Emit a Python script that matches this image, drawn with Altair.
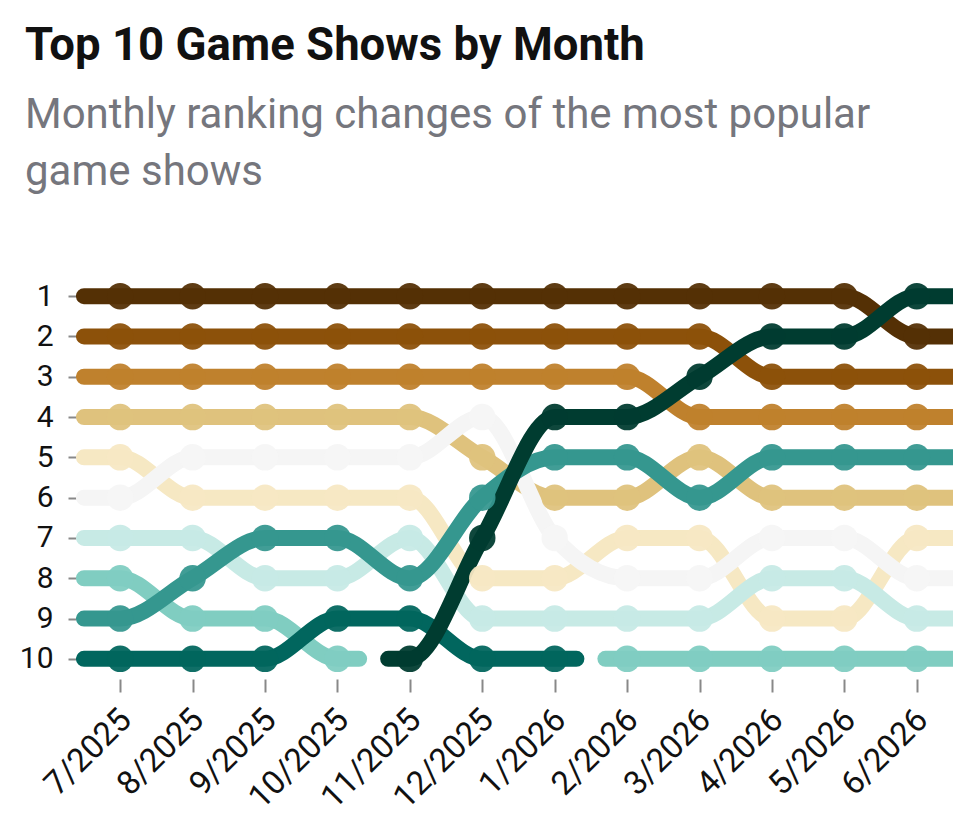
import json
import altair as alt
import pandas as pd

months = ["7/2025", "8/2025", "9/2025", "10/2025", "11/2025", "12/2025",
          "1/2026", "2/2026", "3/2026", "4/2026", "5/2026", "6/2026"]

shows = ["Show A", "Show B", "Show C", "Show D", "Show E", "Show F",
         "Show G", "Show H", "Show I", "Show J", "Show K"]

ranks_a = [1, 1, 1, 1, 1, 1, 1, 1, 1, 1, 1, 2]
ranks_b = [2, 2, 2, 2, 2, 2, 2, 2, 2, 3, 3, 3]
ranks_c = [3, 3, 3, 3, 3, 3, 3, 3, 4, 4, 4, 4]
ranks_d = [4, 4, 4, 4, 4, 5, 6, 6, 5, 6, 6, 6]
ranks_e = [5, 6, 6, 6, 6, 8, 8, 7, 7, 9, 9, 7]
ranks_f = [6, 5, 5, 5, 5, 4, 7, 8, 8, 7, 7, 8]
ranks_g = [7, 7, 8, 8, 7, 9, 9, 9, 9, 8, 8, 9]
ranks_h = [8, 9, 9, 10, None, None, None, 10, 10, 10, 10, 10]
ranks_i = [9, 8, 7, 7, 8, 6, 5, 5, 6, 5, 5, 5]
ranks_j = [10, 10, 10, 9, 9, 10, 10, None, None, None, None, None]
ranks_k = [None, None, None, None, 10, 7, 4, 4, 3, 2, 2, 1]

all_ranks = [ranks_a, ranks_b, ranks_c, ranks_d, ranks_e, ranks_f,
             ranks_g, ranks_h, ranks_i, ranks_j, ranks_k]

colors = ["#543005", "#8c510a", "#bf812d", "#dfc27d", "#f6e8c3", "#f5f5f5",
          "#c7eae5", "#80cdc1", "#35978f", "#01665e", "#003c30"]

FONT = "Roboto"
EDGE_EXT = 0.5
GAP_EXT = 0.3

point_rows = []
line_rows = []
order = 0
for s_i, (name, rk) in enumerate(zip(shows, all_ranks)):
    seg = 0
    run = []
    for m_i, r in enumerate(rk + [None]):
        if r is not None:
            run.append((m_i, r))
            point_rows.append({"show": name, "idx": m_i, "rank": r, "o": s_i})
        elif run:
            segname = f"{name}-{seg}"
            first_i, first_r = run[0]
            last_i, last_r = run[-1]
            ext0 = EDGE_EXT if first_i == 0 else GAP_EXT
            ext1 = EDGE_EXT if last_i == len(months) - 1 else GAP_EXT
            pts = [(first_i - ext0, first_r)] + run + [(last_i + ext1, last_r)]
            for x, y in pts:
                line_rows.append({"show": name, "seg": segname, "idx": x,
                                  "rank": y, "o": order})
                order += 1
            seg += 1
            run = []

lines_df = pd.DataFrame(line_rows)
points_df = pd.DataFrame(point_rows)

label_expr = json.dumps(months) + "[datum.value]"

x_enc = alt.X(
    "idx:Q",
    scale=alt.Scale(domain=[-0.61, 11.5], nice=False, zero=False),
    axis=alt.Axis(values=list(range(len(months))), labelExpr=label_expr,
                  labelAngle=-45, tickSize=13, labelPadding=11, labelOffset=-6,
                  domain=False, grid=False, title=None, labelFontSize=33,
                  labelFont=FONT, labelColor="#111111", tickColor="#888888",
                  tickWidth=2, labelOverlap=False, labelBound=False,
                  labelFlush=False),
)
y_enc = alt.Y(
    "rank:Q",
    scale=alt.Scale(domain=[0.5, 10.5], reverse=True, nice=False, zero=False),
    axis=alt.Axis(values=list(range(1, 11)), format="d", tickSize=8,
                  labelPadding=15, domain=False, grid=False, title=None,
                  labelFontSize=30, labelFont=FONT, labelColor="#111111",
                  tickColor="#888888", tickWidth=2),
)
color_enc = alt.Color("show:N", scale=alt.Scale(domain=shows, range=colors),
                      legend=None)

lines = alt.Chart(lines_df).mark_line(
    interpolate="monotone", strokeWidth=16, strokeCap="round",
    strokeJoin="round", clip=True
).encode(x=x_enc, y=y_enc, color=color_enc, detail="seg:N",
         order=alt.Order("o:Q"))

points = alt.Chart(points_df).mark_circle(size=700, opacity=0.94).encode(
    x=x_enc, y=y_enc, color=color_enc, order=alt.Order("o:Q")
)

chart = alt.layer(lines, points).properties(
    width=877,
    height=403,
    title=alt.Title(
        "Top 10 Game Shows by Month",
        subtitle=["Monthly ranking changes of the most popular", "game shows"],
        anchor="start", frame="group", font=FONT, fontSize=45.5,
        fontWeight="bold", color="#111111", subtitleFont=FONT,
        subtitleFontSize=42, subtitleColor="#75767d",
        subtitleLineHeight=57, subtitlePadding=26, dx=-51, offset=83,
    ),
    autosize=alt.AutoSizeParams(type="none"),
    padding={"left": 76, "top": 276, "right": 27, "bottom": 147},
    background="white",
).configure_view(stroke=None)

chart.save("out.html", embed_options={"renderer": "svg", "actions": False})
